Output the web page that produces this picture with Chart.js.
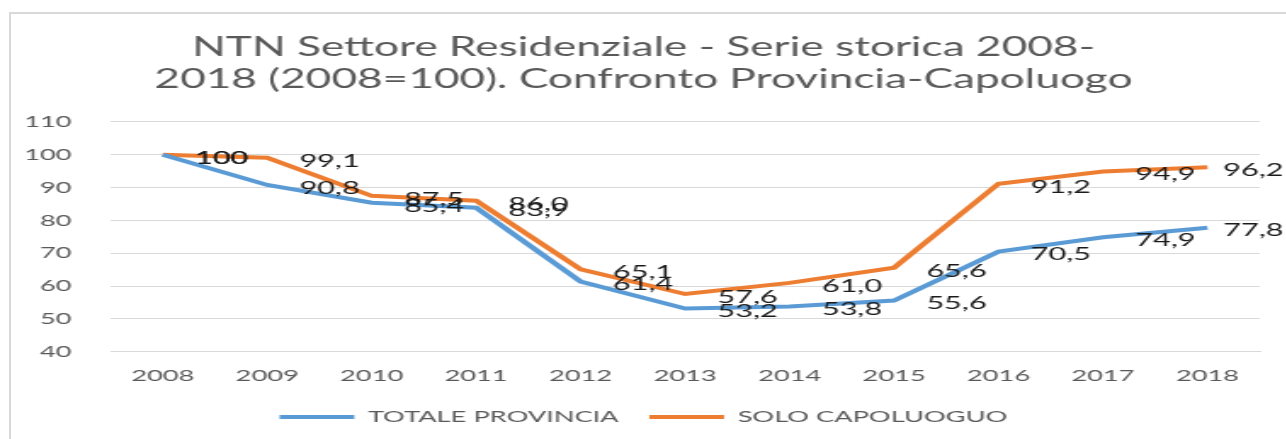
<!DOCTYPE html>
<html>
<head>
<meta charset="utf-8">
<script src="https://cdn.jsdelivr.net/npm/chart.js@4.4.1/dist/chart.umd.min.js"></script>
<style>
  html, body { margin: 0; padding: 0; background: #fff; overflow: hidden; }
  #frame {
    position: absolute; left: 9px; top: 12px; width: 1290px; height: 440px;
    border: 2px solid #d9d9d9; box-sizing: border-box;
  }
  /* the source picture is stretched horizontally, so the canvas is too */
  #wrap {
    position: absolute; left: 0; top: 0; width: 757px; height: 439px;
    transform: scaleX(1.7); transform-origin: 0 0;
  }
</style>
</head>
<body>
<div id="frame"></div>
<div id="wrap"><canvas id="chart" width="757" height="439"></canvas></div>
<script>
// Years on the x axis
const years = ['2008', '2009', '2010', '2011', '2012', '2013', '2014', '2015', '2016', '2017', '2018'];

// Index values (2008 = 100)
const totaleProvincia = [100, 90.8, 85.4, 83.9, 61.4, 53.2, 53.8, 55.6, 70.5, 74.9, 77.8];
const soloCapoluogo = [100, 99.1, 87.5, 86.0, 65.1, 57.6, 61.0, 65.6, 91.2, 94.9, 96.2];

// Y axis ticks
const yTicks = [40, 50, 60, 70, 80, 90, 100, 110];

const FONT = 'Lato, "DejaVu Sans", sans-serif';

// Format numbers the Italian way, "100" stays without decimals
function formatValue(v) {
    if (v === 100) return '100';
    return v.toFixed(1).replace('.', ',');
}

// Draw the value labels to the right of each point
const valueLabels = {
    id: 'valueLabels',
    afterDatasetsDraw(chart) {
        const ctx = chart.ctx;
        ctx.save();
        ctx.font = '18px ' + FONT;
        ctx.fillStyle = '#1a1a1a';
        ctx.textAlign = 'left';
        ctx.textBaseline = 'middle';
        chart.data.datasets.forEach((ds, i) => {
            const meta = chart.getDatasetMeta(i);
            meta.data.forEach((pt, j) => {
                const text = formatValue(ds.data[j]);
                // keep the label inside the canvas
                const x = Math.min(pt.x + 19, chart.width - ctx.measureText(text).width - 2);
                ctx.fillText(text, x, pt.y + 3);
            });
        });
        ctx.restore();
    }
};

const ctx = document.getElementById('chart').getContext('2d');
new Chart(ctx, {
    type: 'line',
    data: {
        labels: years,
        datasets: [{
            label: 'TOTALE PROVINCIA',
            data: totaleProvincia,
            borderColor: '#5B9BD5',
            backgroundColor: '#5B9BD5',
            borderWidth: 4,
            pointRadius: 0,
            tension: 0
        }, {
            label: 'SOLO CAPOLUOGUO',
            data: soloCapoluogo,
            borderColor: '#ED7D31',
            backgroundColor: '#ED7D31',
            borderWidth: 4,
            pointRadius: 0,
            tension: 0
        }]
    },
    options: {
        responsive: false,
        animation: false,
        devicePixelRatio: 1,
        layout: { padding: { left: 0, right: 0, top: 0, bottom: 4 } },
        plugins: {
            title: {
                display: true,
                text: ['NTN Settore Residenziale - Serie storica 2008-', '2018 (2008=100). Confronto Provincia-Capoluogo'],
                color: '#595959',
                font: { family: FONT, size: 26, weight: 'normal', lineHeight: 1.23 },
                padding: { top: 32, bottom: 26 }
            },
            legend: {
                position: 'bottom',
                labels: {
                    usePointStyle: true,
                    pointStyle: 'line',
                    pointStyleWidth: 44,
                    color: '#595959',
                    font: { family: FONT, size: 16 },
                    padding: 18
                }
            },
            tooltip: { enabled: false }
        },
        scales: {
            x: {
                offset: true,
                grid: { display: false },
                border: { color: '#d9d9d9' },
                ticks: { color: '#595959', font: { family: FONT, size: 16 }, padding: 6 }
            },
            y: {
                min: yTicks[0],
                max: yTicks[yTicks.length - 1],
                afterBuildTicks: function (scale) {
                    scale.ticks = yTicks.map(v => ({ value: v }));
                },
                afterFit: function (scale) {
                    scale.width = 65;
                },
                grid: { color: '#d9d9d9', drawTicks: false },
                border: { display: false },
                ticks: { color: '#595959', font: { family: FONT, size: 16 }, padding: 23 }
            },
            // empty strip on the right, keeps the plot off the edge
            yRight: {
                position: 'right',
                min: yTicks[0],
                max: yTicks[yTicks.length - 1],
                grid: { display: false },
                border: { display: false },
                ticks: { display: false },
                afterFit: function (scale) {
                    scale.width = 16;
                }
            }
        }
    },
    plugins: [valueLabels]
});
</script>
</body>
</html>
